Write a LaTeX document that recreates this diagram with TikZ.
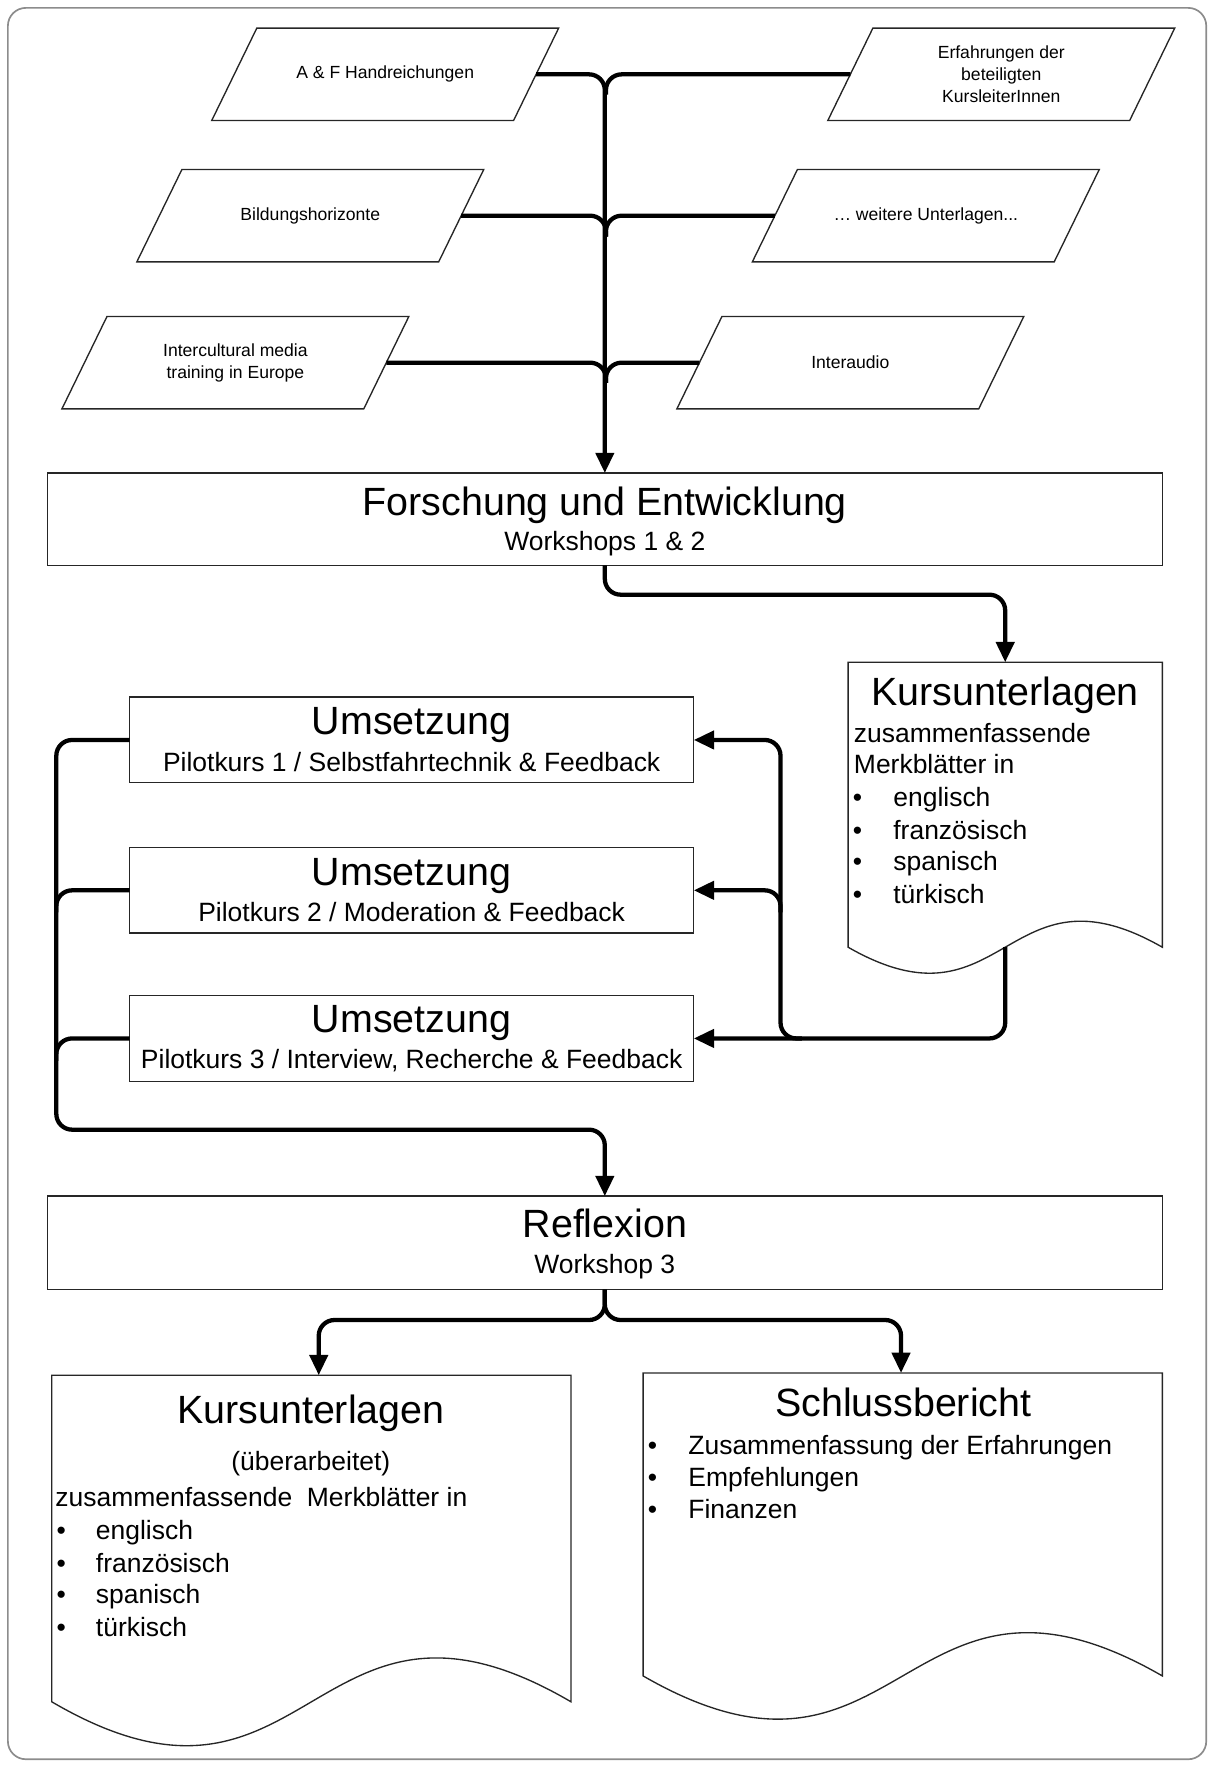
\documentclass[tikz,border=0pt]{standalone}
\usepackage{fontspec}
\setmainfont{Liberation Sans}
\usetikzlibrary{arrows.meta,calc}
\begin{document}
\begin{tikzpicture}[x=1pt,y=-1pt,
  frame/.style={draw=black!45,line width=1.5pt,rounded corners=16pt},
  boxs/.style={draw=black!85,line width=1.2pt,inner sep=0pt,outer sep=0pt},
  pline/.style={draw=black!85,line width=1.2pt},
  ptext/.style={inner sep=0pt,align=center,font=\fontsize{15.6}{19.5}\selectfont},
  conn/.style={line width=3.8pt,rounded corners=14pt},
  arr/.style={-{Triangle[length=18pt,width=16pt]}},
  big/.style={font=\fontsize{35}{40}\selectfont,inner sep=0pt,anchor=base},
  mid/.style={font=\fontsize{23.5}{28}\selectfont,inner sep=0pt,anchor=base},
  midl/.style={mid,anchor=base west},
]
\useasboundingbox (0,0) rectangle (1076,1568);
\draw[frame] (7,7) rectangle (1071,1562);

% source parallelograms
\foreach \n/\x/\y/\t in {
  p1/342/66/{A \& F Handreichungen},
  p2/889/66/{Erfahrungen der\\beteiligten\\KursleiterInnen},
  p3/275.5/191.5/{Bildungshorizonte},
  p4/822/191.5/{… weitere Unterlagen...},
  p5/209/322/{Intercultural media\\training in Europe},
  p6/755/322/{Interaudio}}{
  \draw[pline] (\x-154,\y+41) -- (\x+114,\y+41) -- (\x+154,\y-41) -- (\x-114,\y-41) -- cycle;
  \node[ptext] (\n) at (\x,\y) {\t};
  \coordinate (\n-e) at (\x+134,\y);
  \coordinate (\n-w) at (\x-134,\y);
}

% main boxes
\node[boxs,minimum width=990pt,minimum height=82pt] (fe) at (537,461) {};
\node[big] (feT) at (537,458) {Forschung und Entwicklung};
\node[mid] (feS) at (537,489) {Workshops 1 \& 2};

\node[boxs,minimum width=501pt,minimum height=76pt] (u1) at (365.5,657) {};
\node[big] (u1T) at (365.5,652) {Umsetzung};
\node[mid] (u1S) at (365.5,685) {Pilotkurs 1 / Selbstfahrtechnik \& Feedback};

\node[boxs,minimum width=501pt,minimum height=76pt] (u2) at (365.5,790.5) {};
\node[big] (u2T) at (365.5,786) {Umsetzung};
\node[mid] (u2S) at (365.5,818) {Pilotkurs 2 / Moderation \& Feedback};

\node[boxs,minimum width=501pt,minimum height=76pt] (u3) at (365.5,922) {};
\node[big] (u3T) at (365.5,917) {Umsetzung};
\node[mid] (u3S) at (365.5,949) {Pilotkurs 3 / Interview, Recherche \& Feedback};

\node[boxs,minimum width=990pt,minimum height=83pt] (rf) at (537,1103.5) {};
\node[big] (rfT) at (537,1099) {Reflexion};
\node[mid] (rfS) at (537,1131) {Workshop 3};

% document shapes
\draw[boxs] (1032,841) -- (1032,588) -- (753,588) -- (753,841)
  .. controls (892.5,921) and (892.5,761) .. cycle;
\coordinate (k1top) at (892.5,588);
\coordinate (k1bot) at (892.5,841);
\node[big] (k1T) at (892.5,626) {Kursunterlagen};
\node[midl] (k1a) at (758,659) {zusammenfassende};
\node[midl] (k1b) at (758,687) {Merkblätter in};
\foreach \y/\w [count=\i] in {716/englisch,745/französisch,773/spanisch,802/türkisch}{
  \node[midl] (k1d\i) at (757,\y) {•};
  \node[midl] (k1w\i) at (793,\y) {\w};
}

\draw[boxs] (507,1511) -- (507,1221) -- (46,1221) -- (46,1511)
  .. controls (276.5,1646) and (276.5,1376) .. cycle;
\coordinate (k2top) at (283,1221);
\node[big] (k2T) at (276,1264) {Kursunterlagen};
\node[mid] (k2u) at (276,1306) {(überarbeitet)};
\node[midl] (k2a) at (49,1338) {zusammenfassende\ \ Merkblätter in};
\foreach \y/\w [count=\i] in {1367/englisch,1396/französisch,1424/spanisch,1453/türkisch}{
  \node[midl] (k2d\i) at (50,\y) {•};
  \node[midl] (k2w\i) at (85,\y) {\w};
}

\draw[boxs] (1032,1488) -- (1032,1219) -- (571,1219) -- (571,1488)
  .. controls (801.5,1621) and (801.5,1355) .. cycle;
\coordinate (sbtop) at (800,1219);
\node[big] (sbT) at (802,1258) {Schlussbericht};
\foreach \y/\w [count=\i] in {1291/Zusammenfassung der Erfahrungen,1320/Empfehlungen,1348/Finanzen}{
  \node[midl] (sbd\i) at (575,\y) {•};
  \node[midl] (sbw\i) at (611,\y) {\w};
}

% connectors: sources to trunk
\coordinate (t1) at (538,84);
\coordinate (t2) at (538,210);
\coordinate (t3) at (538,340);
\draw[conn,arr] (p1-e) -| (fe.north);
\draw[conn] (p2-w) -| (t1);
\draw[conn] (p3-e) -| (t2);
\draw[conn] (p4-w) -| (t2);
\draw[conn] (p5-e) -| (t3);
\draw[conn] (p6-w) -| (t3);

% F&E to Kursunterlagen
\draw[conn,arr] (fe.south) -- ++(0,26) -| (k1top);

% Kursunterlagen to Umsetzung boxes
\coordinate (bj) at (712,922);
\coordinate (bv) at (693,810);
\coordinate (bt) at (693,657);
\draw[conn,arr] (k1bot) |- (u3.east);
\draw[conn,arr] (bj) -| (bt) -- (u1.east);
\draw[conn,arr] (bv) |- (u2.east);

% Umsetzung to Reflexion
\coordinate (lc) at (50,1003);
\coordinate (l2) at (50,810);
\coordinate (l3) at (50,942);
\draw[conn,arr] (u1.west) -| (lc) -| (rf.north);
\draw[conn] (u2.west) -| (l2);
\draw[conn] (u3.west) -| (l3);

% Reflexion to outputs
\draw[conn,arr] (rf.south) -- ++(0,27) -| (k2top);
\draw[conn,arr] (rf.south) -- ++(0,27) -| (sbtop);
\end{tikzpicture}
\end{document}
